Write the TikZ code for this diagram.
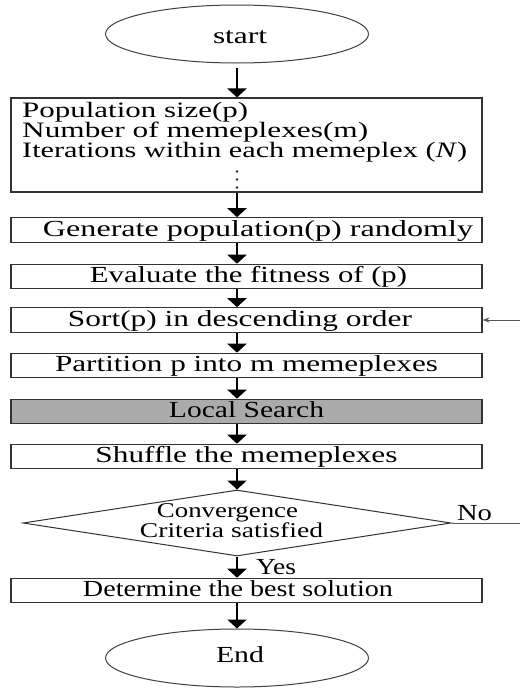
\documentclass[tikz,border=0pt]{standalone}
\usepackage{fontspec}
\setmainfont{Liberation Serif}
\usetikzlibrary{arrows.meta,shapes.geometric,calc}
\newcommand{\fw}[2]{\resizebox{#1pt}{\height}{#2}}
\begin{document}
\begin{tikzpicture}[x=1pt,y=-1pt,
  every node/.style={font=\fontsize{23}{23}\selectfont, text=black},
  box/.style={draw=black!80, line width=1.1pt, minimum width=471pt, minimum height=24.5pt, inner sep=0pt, text height=16pt, text depth=4pt},
  term/.style={ellipse, draw=black!75, line width=1pt, minimum width=263pt, minimum height=58pt, inner sep=0pt},
  decision/.style={diamond, draw=black!80, line width=1pt, minimum width=428pt, minimum height=66pt, inner sep=0pt},
  lbl/.style={inner sep=0pt},
  pline/.style={inner sep=0pt, anchor=base west, font=\fontsize{22}{20}\selectfont},
  dline/.style={inner sep=0pt, anchor=base, font=\fontsize{21}{18}\selectfont},
  arr/.style={line width=2.6pt, -{Triangle[width=19pt,length=9pt]}},
  fline/.style={line width=0.8pt, draw=black!65},
]
\useasboundingbox (0,0) rectangle (520,688);
\fill[white] (0,0) rectangle (520,688);

\node[term, text height=18pt, text depth=0pt] (start) at (237,34) {\hspace*{6pt}\fw{54}{start}};
\node[box, minimum height=94pt] (params) at (246.5,145) {};
\node[pline] (l1) at (22,117) {\raisebox{0pt}[14.5pt][4pt]{\fw{226}{Population size(p)}}};
\node[pline] (l2) at (22,137) {\raisebox{0pt}[14.5pt][4pt]{\fw{346}{Number of memeplexes(m)}}};
\node[pline] (l3) at (22,157) {\raisebox{0pt}[14.5pt][4pt]{\fw{445}{Iterations within each memeplex (\textit{N})}}};
\foreach \yy in {171.5,179.5,187.5} \fill[black!85] (237,\yy) circle (1.3);

\node[box] (gen) at (246.5,230) {\hspace*{23pt}\fw{430}{Generate population(p) randomly}};
\node[box] (eval) at (246.5,276.5) {\hspace*{4pt}\fw{317}{Evaluate the fitness of (p)}};
\node[box] (sort) at (246.5,320) {\fw{344}{Sort(p) in descending order}\hspace*{13pt}};
\node[box] (part) at (246.5,365.5) {\fw{383}{Partition p into m memeplexes}};
\node[box, fill=black!33] (ls) at (246.5,411.5) {\fw{155}{Local Search}};
\node[box] (shuf) at (246.5,456.5) {\fw{302}{Shuffle the memeplexes}};
\node[decision] (conv) at (237,523) {};
\node[dline] (convt1) at (227.5,517) {\raisebox{0pt}[13pt][4pt]{\fw{141}{Convergence}}};
\node[dline] (convt2) at (231.5,537) {\raisebox{0pt}[13pt][1pt]{\fw{183}{Criteria satisfied}}};
\node[box] (best) at (246.5,590.5) {\fw{310}{Determine the best solution}\hspace*{17pt}};
\node[term, text height=14pt, text depth=6pt] (end) at (237,658) {\hspace*{6pt}\fw{48}{End}};

\node[lbl] (yes) at (276,567) {\fw{40}{Yes}};
\node[lbl] (no) at (474.5,513) {\fw{35}{No}};
\coordinate (noend) at (520,523);
\coordinate (fb) at (520,320);

\draw[arr] ([yshift=-4pt]start.south) -- (params.north -| start);
\draw[arr] (params.south -| start) -- (gen.north -| start);
\draw[arr] (gen.south -| start) -- (eval.north -| start);
\draw[arr] (eval.south -| start) -- (sort.north -| start);
\draw[arr] (sort.south -| start) -- (part.north -| start);
\draw[arr] (part.south -| start) -- (ls.north -| start);
\draw[arr] (ls.south -| start) -- (shuf.north -| start);
\draw[arr] (shuf.south -| start) -- (conv.north);
\draw[arr] (conv.south) -- (best.north -| conv.south);
\draw[arr] (best.south -| start) -- (end.north);
\draw[fline] (conv.east) -- (noend);
\draw[fline, -{Stealth[width=5pt,length=7pt]}] (fb) -- (sort.east);
\end{tikzpicture}
\end{document}
